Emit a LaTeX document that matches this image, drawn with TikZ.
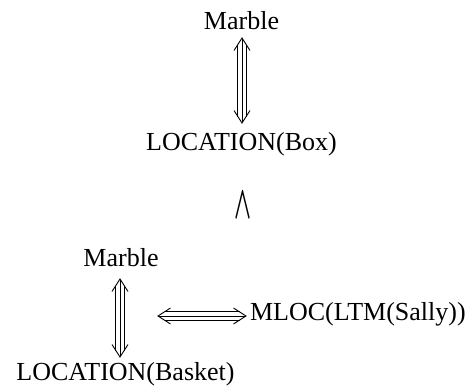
\documentclass[tikz,border=0pt]{standalone}
\usepackage{fontspec}
\setmainfont{Liberation Serif}
\usetikzlibrary{calc}
\tikzset{
  lbl/.style={inner sep=0pt, outer sep=0pt, anchor=base, font=\fontsize{26}{30}\selectfont},
  shaft/.style={double, double distance=7.4pt, line width=0.9pt, shorten <=6.5pt, shorten >=6.5pt},
  midline/.style={line width=0.9pt, shorten <=1pt, shorten >=1pt},
  thead/.pic={\draw[line width=0.9pt] (-12.5,8) .. controls (-5,3.2) .. (0,0) .. controls (-5,-3.2) .. (-12.5,-8);}
}
\begin{document}
\begin{tikzpicture}[x=1pt,y=-1pt]
\useasboundingbox (0,0) rectangle (475,391);
\node[lbl] (m1) at (241.5,29) {Marble};
\node[lbl] (l1) at (241.5,150) {LOCATION(Box)};
\node[inner sep=0pt] (w) at (243.5,205) {\resizebox{17pt}{26pt}{\boldmath$\wedge$}};
\node[lbl] (m2) at (121,266) {Marble};
\node[lbl] (l2) at (125.5,380) {LOCATION(Basket)};
\node[lbl, anchor=base west] (s) at (250,320) {MLOC(LTM(Sally))};
\coordinate (a1) at (242,38);
\coordinate (b1) at (242,123);
\coordinate (a2) at (120,279);
\coordinate (b2) at (120,357);
\coordinate (hl) at (158,316);
\coordinate (hr) at ($(hl -| s.west)+(-4,0)$);
% top vertical arrow
\draw[shaft] (a1) -- (b1);
\draw[midline] (a1) -- (b1);
\pic[rotate=90] at (a1) {thead};
\pic[rotate=-90] at (b1) {thead};
% bottom vertical arrow
\draw[shaft] (a2) -- (b2);
\draw[midline] (a2) -- (b2);
\pic[rotate=90] at (a2) {thead};
\pic[rotate=-90] at (b2) {thead};
% horizontal arrow
\draw[shaft] (hl) -- (hr);
\draw[midline] (hl) -- (hr);
\pic[rotate=180] at (hl) {thead};
\pic at (hr) {thead};
\end{tikzpicture}
\end{document}
